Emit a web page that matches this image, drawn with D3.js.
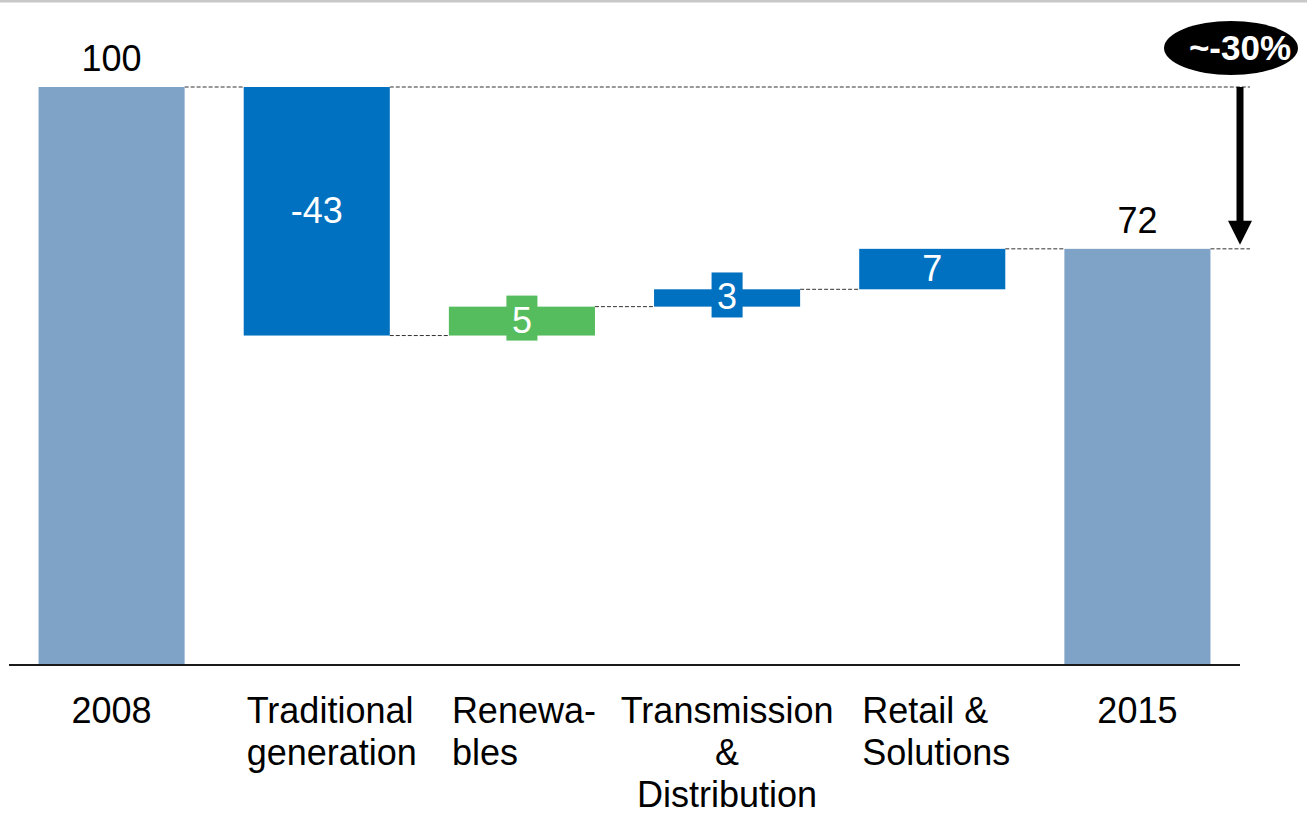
<!DOCTYPE html>
<html>
<head>
<meta charset="utf-8">
<script src="https://cdn.jsdelivr.net/npm/d3@7"></script>
<style>
  html, body { margin: 0; padding: 0; background: #fff; }
  svg { display: block; font-family: 'Liberation Sans', Arial, sans-serif; }
</style>
</head>
<body>
<div class="waterfall"></div>
<script>
// chart values
const categories = ['2008', 'Traditional generation', 'Renewables', 'Transmission & Distribution', 'Retail & Solutions', '2015'];
const labelLines = [['2008'], ['Traditional', 'generation'], ['Renewa-', 'bles'], ['Transmission', '&', 'Distribution'], ['Retail &', 'Solutions'], ['2015']];
const values = [100, -43, 5, 3, 7, 72];
const kinds = ['total', 'delta', 'delta', 'delta', 'delta', 'total'];
const changeLabel = '~-30%';

// styles
const barColors = ['#7fa2c7', '#0070c0', '#56bd5e', '#0070c0', '#0070c0', '#7fa2c7'];
const labelAlign = ['middle', 'start', 'start', 'middle', 'start', 'middle'];

let width = 1307, height = 816;

function draw_waterfall() {
    let svg = d3.select('.waterfall')
        .append('svg')
        .attr('width', width)
        .attr('height', height);

    // running totals -> start / end of each bar
    let rows = [];
    let run = 0;
    for (let i = 0; i < categories.length; i++) {
        let start, end;
        if (kinds[i] === 'total') {
            start = 0;
            end = values[i];
            run = values[i];
        } else {
            start = run;
            end = run + values[i];
            run = end;
        }
        rows.push({cat: categories[i], value: values[i], kind: kinds[i], start: start, end: end,
            lines: labelLines[i], color: barColors[i], align: labelAlign[i]});
    }

    let x_scale = d3.scaleBand()
        .domain(categories)
        .range([9, 1240])
        .paddingInner(0.288)
        .paddingOuter(0.144);
    let y_scale = d3.scaleLinear()
        .domain([0, 100])
        .range([665, 87]);
    let bw = x_scale.bandwidth();

    // grey rule at the very top
    svg.append('rect')
        .attr('x', 0).attr('y', 0)
        .attr('width', width).attr('height', 2.5)
        .attr('fill', '#c8c8c8');

    // connectors
    let conn = svg.append('g')
        .attr('stroke', '#333')
        .attr('stroke-width', 1)
        .attr('stroke-dasharray', '4,2');
    for (let i = 0; i < rows.length - 1; i++) {
        let yv = y_scale(rows[i].kind === 'total' ? rows[i].end : rows[i].end);
        conn.append('line')
            .attr('x1', x_scale(rows[i].cat) + bw)
            .attr('x2', x_scale(rows[i + 1].cat))
            .attr('y1', yv).attr('y2', yv);
    }
    // reference lines for the arrow
    let arrowX = x_scale.range()[1];
    conn.append('line')
        .attr('x1', x_scale(categories[1]) + bw)
        .attr('x2', arrowX + 10)
        .attr('y1', y_scale(values[0])).attr('y2', y_scale(values[0]));
    conn.append('line')
        .attr('x1', x_scale(categories[5]) + bw)
        .attr('x2', arrowX + 10)
        .attr('y1', y_scale(values[5])).attr('y2', y_scale(values[5]));

    // bars
    svg.append('g')
        .selectAll('rect')
        .data(rows)
        .join('rect')
        .attr('x', d => x_scale(d.cat))
        .attr('y', d => y_scale(Math.max(d.start, d.end)))
        .attr('width', bw)
        .attr('height', d => Math.abs(y_scale(d.start) - y_scale(d.end)))
        .attr('fill', d => d.color);

    // axis line
    svg.append('line')
        .attr('x1', x_scale.range()[0]).attr('x2', x_scale.range()[1])
        .attr('y1', y_scale(0)).attr('y2', y_scale(0))
        .attr('stroke', '#1a1a1a')
        .attr('stroke-width', 2);

    // value labels
    let vl = svg.append('g')
        .attr('font-size', 36);
    rows.forEach(d => {
        let cx = x_scale(d.cat) + bw / 2;
        if (d.kind === 'total') {
            vl.append('text')
                .attr('x', cx)
                .attr('y', y_scale(d.end) - 16)
                .attr('text-anchor', 'middle')
                .attr('fill', '#000')
                .text(d.value);
        } else {
            let top = y_scale(Math.max(d.start, d.end));
            let bot = y_scale(Math.min(d.start, d.end));
            let base = (top + bot) / 2 + 11.5;
            let t = vl.append('text')
                .attr('x', cx)
                .attr('y', base)
                .attr('text-anchor', 'middle')
                .attr('fill', '#fff')
                .text(d.value);
            if (bot - top < 40) {
                let tw = t.node().getComputedTextLength();
                vl.insert('rect', () => t.node())
                    .attr('x', cx - tw / 2 - 5.5)
                    .attr('y', base - 37)
                    .attr('width', tw + 11)
                    .attr('height', 45)
                    .attr('fill', d.color);
            }
        }
    });

    // category labels
    let cl = svg.append('g')
        .attr('font-size', 36)
        .attr('fill', '#000');
    rows.forEach(d => {
        let left = d.align === 'start';
        let t = cl.append('text')
            .attr('text-anchor', left ? 'start' : 'middle')
            .attr('x', left ? x_scale(d.cat) + 3 : x_scale(d.cat) + bw / 2)
            .attr('y', 723);
        d.lines.forEach((ln, i) => {
            t.append('tspan')
                .attr('x', left ? x_scale(d.cat) + 3 : x_scale(d.cat) + bw / 2)
                .attr('dy', i === 0 ? 0 : 42)
                .text(ln);
        });
    });

    // change arrow
    let y0 = y_scale(values[0]), y1 = y_scale(values[5]);
    svg.append('rect')
        .attr('x', arrowX - 3.5)
        .attr('y', y0)
        .attr('width', 7)
        .attr('height', y1 - y0 - 20)
        .attr('fill', '#000');
    svg.append('path')
        .attr('d', `M${arrowX - 12},${y1 - 28} L${arrowX + 12},${y1 - 28} L${arrowX},${y1 - 4} Z`)
        .attr('fill', '#000');

    // change bubble
    svg.append('ellipse')
        .attr('cx', arrowX - 9)
        .attr('cy', 48)
        .attr('rx', 67)
        .attr('ry', 27)
        .attr('fill', '#000');
    svg.append('text')
        .attr('x', arrowX)
        .attr('y', 60)
        .attr('text-anchor', 'middle')
        .attr('font-size', 35)
        .attr('font-weight', 'bold')
        .attr('fill', '#fff')
        .text(changeLabel);
}

draw_waterfall();
</script>
</body>
</html>
